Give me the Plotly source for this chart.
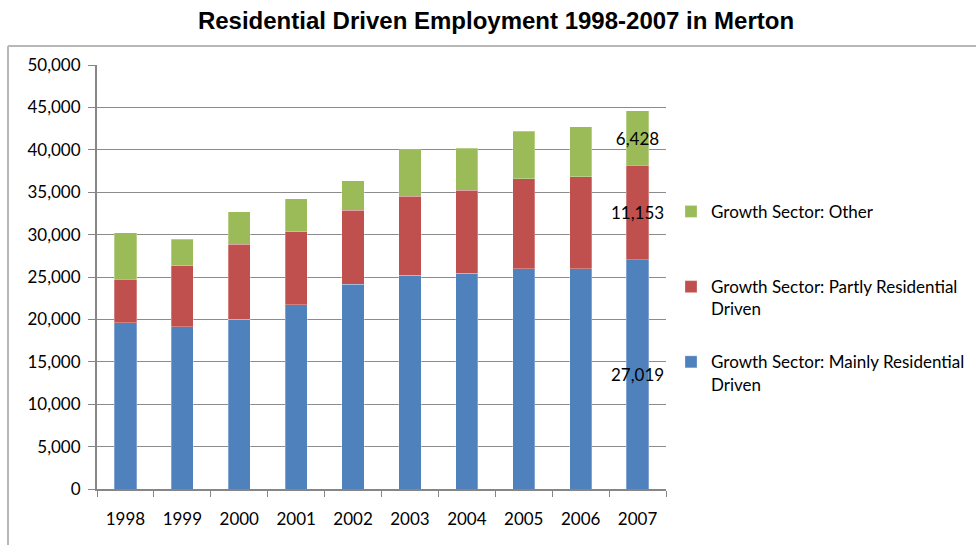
import plotly.graph_objects as go

# Employment by growth sector, Merton 1998-2007
years = ["1998", "1999", "2000", "2001", "2002", "2003", "2004", "2005", "2006", "2007"]
mainly_residential = [19580, 19140, 20010, 21700, 24140, 25200, 25440, 25980, 25980, 27019]
partly_residential = [5180, 7190, 8880, 8640, 8760, 9350, 9820, 10580, 10850, 11153]
other_sector = [5440, 3120, 3780, 3900, 3460, 5430, 4950, 5620, 5900, 6428]

# every legend entry is laid out over two lines so that the entries are evenly spaced
series_names = [
    "Growth Sector: Mainly Residential<br>Driven",
    "Growth Sector: Partly Residential<br>Driven",
    "Growth Sector: Other<br> ",
]
series_colors = ["#4F81BD", "#C0504D", "#9BBB59"]
series_values = [mainly_residential, partly_residential, other_sector]
legend_ranks = [3, 2, 1]

FONT = "Lato"

fig = go.Figure()
for i, (name, color, vals) in enumerate(zip(series_names, series_colors, series_values)):
    # only the final year carries a value label
    labels = [f"{v:,}" if y == years[-1] else "" for y, v in zip(years, vals)]
    fig.add_trace(go.Bar(
        x=years,
        y=vals,
        name=name,
        legendgroup=f"g{i}",
        legendrank=legend_ranks[i],
        marker=dict(color=color, line=dict(color="rgba(255,255,255,0.35)", width=0.8)),
        text=labels,
        textposition="inside",
        insidetextanchor="middle",
        textangle=0,
        constraintext="none",
        textfont=dict(family=FONT, size=17, color="#000000"),
        hoverinfo="x+y+name",
    ))

fig.update_layout(
    barmode="stack",
    bargap=0.61,
    width=976,
    height=545,
    paper_bgcolor="white",
    plot_bgcolor="white",
    margin=dict(l=97, r=310, t=65, b=56, autoexpand=False),
    title=dict(
        text="<b>Residential Driven Employment 1998-2007 in Merton</b>",
        font=dict(family="Liberation Sans", size=24, color="#000000"),
        x=496 / 976, xanchor="center", y=1 - 21 / 545, yanchor="middle",
    ),
    font=dict(family=FONT, size=17, color="#000000"),
    legend=dict(
        x=1.0088, xanchor="left",
        y=0.696, yanchor="top",
        traceorder="grouped",
        tracegroupgap=28,
        valign="top",
        font=dict(family=FONT, size=17, color="#000000"),
        bgcolor="rgba(0,0,0,0)",
    ),
    xaxis=dict(
        type="category",
        showline=True, linecolor="#868686", linewidth=2,
        ticks="outside", ticklen=6, tickcolor="#868686", tickwidth=1,
        tickson="boundaries",
        showgrid=False,
        tickfont=dict(family=FONT, size=17),
        ticklabelstandoff=14,
    ),
    yaxis=dict(
        range=[0, 50000],
        tick0=0, dtick=5000,
        tickformat=",d",
        showline=True, linecolor="#868686", linewidth=2,
        ticks="outside", ticklen=7, tickcolor="#868686", tickwidth=1,
        showgrid=True, gridcolor="#8C8C8C", gridwidth=1,
        zeroline=False,
        tickfont=dict(family=FONT, size=17),
        ticklabelstandoff=4,
    ),
    shapes=[
        # outer chart frame (left and top edges)
        dict(type="line", xref="paper", yref="paper",
             x0=(8 - 97) / 569, x1=(8 - 97) / 569, y0=(489 - 46) / 424, y1=-0.3,
             line=dict(color="#B8B8B8", width=2)),
        dict(type="line", xref="paper", yref="paper",
             x0=(8 - 97) / 569, x1=1.7, y0=(489 - 46) / 424, y1=(489 - 46) / 424,
             line=dict(color="#B8B8B8", width=2)),
    ],
)

fig.write_html("out.html")
